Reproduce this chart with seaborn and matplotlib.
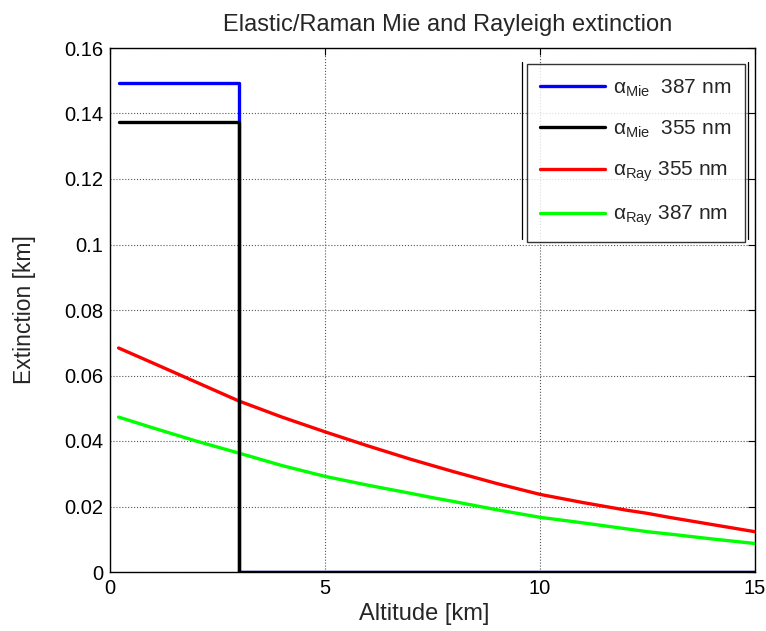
import numpy as np
import pandas as pd
import matplotlib
matplotlib.use("Agg")
import matplotlib.pyplot as plt
import seaborn as sns
from matplotlib.lines import Line2D

# ---- data ----
mie_alt = [0.2, 3.0, 3.0, 15.0]
mie_387 = [0.1493, 0.1493, 0.0, 0.0]
mie_355 = [0.1375, 0.1375, 0.0, 0.0]

ray_alt = [0.2, 1, 2, 3, 4, 5, 6, 7, 7.5, 8, 9, 10, 11, 12, 12.5, 13, 14, 15]
ray_355 = [0.0684, 0.0638, 0.0580, 0.0522, 0.0473, 0.0428, 0.0385, 0.0344, 0.0325,
           0.0306, 0.0270, 0.0237, 0.0212, 0.0189, 0.0179, 0.0167, 0.0145, 0.0123]
ray_387 = [0.0473, 0.0440, 0.0400, 0.0363, 0.0325, 0.0292, 0.0265, 0.0240, 0.0227,
           0.0215, 0.0190, 0.0167, 0.0150, 0.0132, 0.0123, 0.0116, 0.0101, 0.0087]

labels = [r'$\alpha_{\mathrm{Mie}}$  387 nm', r'$\alpha_{\mathrm{Mie}}$  355 nm',
          r'$\alpha_{\mathrm{Ray}}$ 355 nm', r'$\alpha_{\mathrm{Ray}}$ 387 nm']
colors = ['#0000ff', '#000000', '#ff0000', '#00ff00']

xticks = [0, 5, 10, 15]
yticks = [0, 0.02, 0.04, 0.06, 0.08, 0.1, 0.12, 0.14, 0.16]
ytick_labels = ['0', '0.02', '0.04', '0.06', '0.08', '0.1', '0.12', '0.14', '0.16']

sns.set_style('white')
plt.rcParams['font.family'] = ['Liberation Sans', 'DejaVu Sans']
plt.rcParams['mathtext.fontset'] = 'custom'
plt.rcParams['mathtext.rm'] = 'Liberation Sans'
plt.rcParams['mathtext.it'] = 'Liberation Sans'

fig = plt.figure(figsize=(7.66, 6.31), dpi=100)
ax = fig.add_axes([110/766, 59/631, 645/766, 524/631])

df_mie = pd.DataFrame({'alt': mie_alt, 'm387': mie_387, 'm355': mie_355})
df_ray = pd.DataFrame({'alt': ray_alt, 'r355': ray_355, 'r387': ray_387})

kw = dict(sort=False, estimator=None, lw=2.4, ax=ax)
sns.lineplot(data=df_mie, x='alt', y='m387', color=colors[0], zorder=3, **kw)
sns.lineplot(data=df_ray, x='alt', y='r355', color=colors[2], zorder=4, **kw)
sns.lineplot(data=df_ray, x='alt', y='r387', color=colors[3], zorder=4, **kw)
sns.lineplot(data=df_mie, x='alt', y='m355', color=colors[1], zorder=5, **kw)

ax.set_xlim(0, 15)
ax.set_ylim(0, 0.16)
ax.set_xticks(xticks)
ax.set_xticklabels([str(t) for t in xticks])
ax.set_yticks(yticks)
ax.set_yticklabels(ytick_labels)
ax.tick_params(direction='in', length=5, width=0.8, labelsize=14.5, top=True, right=True,
               colors='black', pad=5)
ax.grid(True, color='#555555', linestyle=':', linewidth=0.8)
for s in ax.spines.values():
    s.set_color('black')
    s.set_linewidth(1.0)
    s.set_zorder(2)

ax.set_xlabel('Altitude [km]', fontsize=17, labelpad=3)
ax.xaxis.set_label_coords(0.4876, -0.06, transform=ax.transAxes)
ax.xaxis.label.set_va('top')
ax.set_ylabel('Extinction [km]', fontsize=16.5, labelpad=20)
ax.set_title('Elastic/Raman Mie and Rayleigh extinction', fontsize=17, pad=12, x=0.524)

handles = [Line2D([0], [0], color=c, lw=2.4) for c in colors]
leg = ax.legend(handles, labels, loc='upper right', bbox_to_anchor=(0.9845, 0.9695),
                fontsize=15, frameon=True, fancybox=False, edgecolor='black',
                handlelength=3.1, handletextpad=0.4, labelspacing=0.95,
                borderpad=0.65, borderaxespad=0.0)
leg.get_frame().set_linewidth(1.0)
leg.set_zorder(10)

# extra frame lines beside legend (as in reference)
fig.add_artist(Line2D([522/766, 522/766], [1-62/631, 1-239/631], color='black', lw=0.9))
fig.add_artist(Line2D([748/766, 748/766], [1-62/631, 1-239/631], color='black', lw=0.9))

fig.savefig('out.png', dpi=100, facecolor='white')
